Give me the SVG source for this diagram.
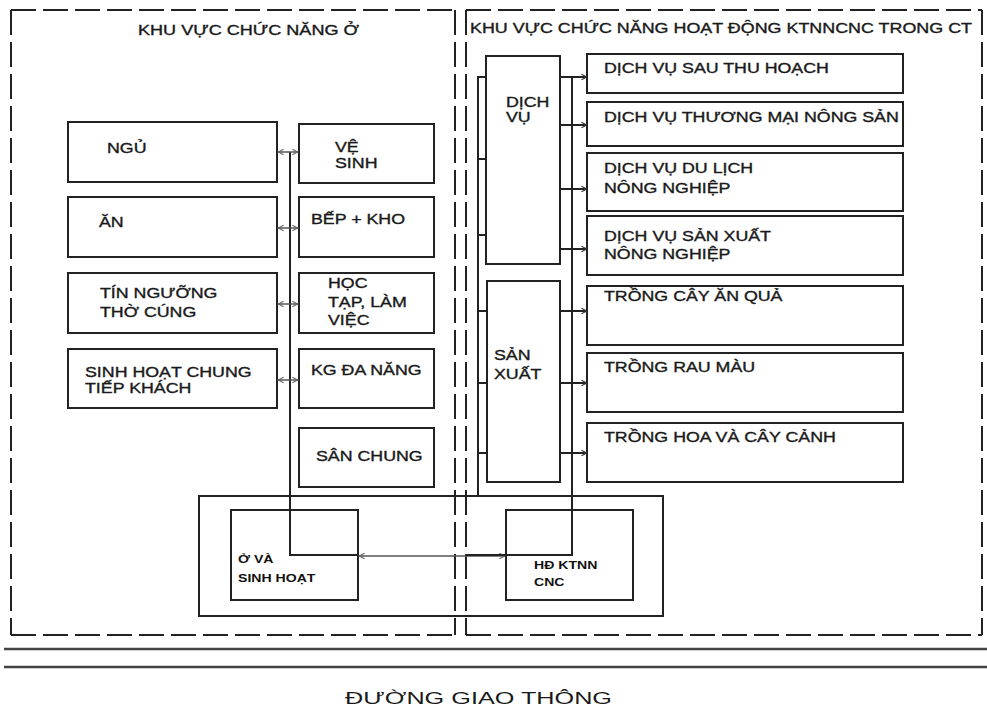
<svg xmlns="http://www.w3.org/2000/svg" width="987" height="709" viewBox="0 0 987 709">
<style>
.box{fill:none;stroke:#222;stroke-width:2}
.dash{stroke:#222;stroke-width:2;stroke-dasharray:25 7;fill:none}
.t{font-family:"Liberation Sans",Arial,sans-serif;font-size:14px;fill:#1a1a1a;stroke:#1a1a1a;stroke-width:0.35}
.s{font-family:"Liberation Sans",Arial,sans-serif;font-size:11px;font-weight:bold;fill:#111}
.ln{stroke:#222;stroke-width:2;fill:none}
.ga{stroke:#555;stroke-width:1.5;fill:none}
.road{stroke:#444;stroke-width:2.5}
.rt{font-family:"Liberation Sans",Arial,sans-serif;font-size:17px;fill:#1a1a1a}
</style>
<defs>
<marker id="ag" viewBox="0 0 10 10" refX="9" refY="5" markerWidth="7" markerHeight="9" markerUnits="userSpaceOnUse" orient="auto-start-reverse"><path d="M1,1 L9,5 L1,9" fill="none" stroke="#666" stroke-width="1.5"/></marker>
<marker id="ab" viewBox="0 0 10 10" refX="9" refY="5" markerWidth="7" markerHeight="9" markerUnits="userSpaceOnUse" orient="auto"><path d="M1,1 L9,5 L1,9" fill="none" stroke="#333" stroke-width="1.5"/></marker>
</defs>
<rect width="987" height="709" fill="#fff"/>

<g id="zone-o">
<line class="dash" x1="11" y1="10" x2="455" y2="10"/>
<line class="dash" x1="455" y1="10" x2="455" y2="635"/>
<line class="dash" x1="11" y1="635" x2="455" y2="635"/>
<line class="dash" x1="11" y1="10" x2="11" y2="635"/>
<text class="t" x="138" y="35" textLength="221" lengthAdjust="spacingAndGlyphs">KHU VỰC CHỨC NĂNG Ở</text>
</g>
<g id="zone-hd">
<line class="dash" x1="466" y1="10" x2="982" y2="10"/>
<line class="dash" x1="982" y1="10" x2="982" y2="635"/>
<line class="dash" x1="466" y1="635" x2="982" y2="635"/>
<line class="dash" x1="466" y1="10" x2="466" y2="635"/>
<text class="t" x="470" y="33" textLength="502" lengthAdjust="spacingAndGlyphs">KHU VỰC CHỨC NĂNG HOẠT ĐỘNG KTNNCNC TRONG CT</text>
</g>

<g id="ngu"><rect class="box" x="68" y="122" width="209" height="60"/><text class="t" transform="translate(107,153) scale(1.27,1)">NGỦ</text></g>
<g id="an"><rect class="box" x="68" y="197" width="209" height="60"/><text class="t" transform="translate(99,227) scale(1.27,1)">ĂN</text></g>
<g id="tin-nguong"><rect class="box" x="68" y="273" width="209" height="60"/><text class="t" transform="translate(100,298) scale(1.27,1)">TÍN NGƯỠNG</text><text class="t" transform="translate(100,317) scale(1.27,1)">THỜ CÚNG</text></g>
<g id="sinh-hoat-chung"><rect class="box" x="68" y="349" width="209" height="59"/><text class="t" transform="translate(85,377) scale(1.27,1)">SINH HOẠT CHUNG</text><text class="t" transform="translate(85,393) scale(1.27,1)">TIẾP KHÁCH</text></g>

<g id="ve-sinh"><rect class="box" x="299" y="124" width="135" height="59"/><text class="t" transform="translate(335,152) scale(1.27,1)">VỆ</text><text class="t" transform="translate(335,168) scale(1.27,1)">SINH</text></g>
<g id="bep-kho"><rect class="box" x="299" y="197" width="135" height="60"/><text class="t" transform="translate(311,224) scale(1.27,1)">BẾP + KHO</text></g>
<g id="hoc-tap"><rect class="box" x="299" y="273" width="135" height="60"/><text class="t" transform="translate(328,288) scale(1.27,1)">HỌC</text><text class="t" transform="translate(328,307) scale(1.27,1)">TẠP, LÀM</text><text class="t" transform="translate(328,325) scale(1.27,1)">VIỆC</text></g>
<g id="kg-da-nang"><rect class="box" x="299" y="349" width="135" height="59"/><text class="t" transform="translate(311,375) scale(1.27,1)">KG ĐA NĂNG</text></g>
<g id="san-chung"><rect class="box" x="299" y="428" width="135" height="59"/><text class="t" transform="translate(316,461) scale(1.27,1)">SÂN CHUNG</text></g>

<g id="dich-vu"><rect class="box" x="486" y="56" width="74" height="208"/><text class="t" transform="translate(506,107) scale(1.27,1)">DỊCH</text><text class="t" transform="translate(506,122) scale(1.27,1)">VỤ</text></g>
<g id="san-xuat"><rect class="box" x="487" y="281" width="73" height="201"/><text class="t" transform="translate(494,360) scale(1.27,1)">SẢN</text><text class="t" transform="translate(494,379) scale(1.27,1)">XUẤT</text></g>

<g id="dv-sau-thu-hoach"><rect class="box" x="587" y="54" width="316" height="39"/><text class="t" transform="translate(604,73) scale(1.27,1)">DỊCH VỤ SAU THU HOẠCH</text></g>
<g id="dv-thuong-mai"><rect class="box" x="587" y="102" width="316" height="44"/><text class="t" transform="translate(604,122) scale(1.27,1)">DỊCH VỤ THƯƠNG MẠI NÔNG SẢN</text></g>
<g id="dv-du-lich"><rect class="box" x="587" y="153" width="316" height="58"/><text class="t" transform="translate(604,173) scale(1.27,1)">DỊCH VỤ DU LỊCH</text><text class="t" transform="translate(604,193) scale(1.27,1)">NÔNG NGHIỆP</text></g>
<g id="dv-san-xuat"><rect class="box" x="587" y="216" width="316" height="59"/><text class="t" transform="translate(604,241) scale(1.27,1)">DỊCH VỤ SẢN XUẤT</text><text class="t" transform="translate(604,259) scale(1.27,1)">NÔNG NGHIỆP</text></g>
<g id="cay-an-qua"><rect class="box" x="587" y="286" width="316" height="59"/><text class="t" transform="translate(604,301) scale(1.27,1)">TRỒNG CÂY ĂN QUẢ</text></g>
<g id="rau-mau"><rect class="box" x="587" y="353" width="316" height="59"/><text class="t" transform="translate(604,372) scale(1.27,1)">TRỒNG RAU MÀU</text></g>
<g id="hoa-cay-canh"><rect class="box" x="587" y="423" width="316" height="59"/><text class="t" transform="translate(604,442) scale(1.27,1)">TRỒNG HOA VÀ CÂY CẢNH</text></g>

<g id="khu-chung"><rect class="box" x="199" y="496" width="464" height="120"/></g>
<g id="o-sinh-hoat"><rect class="box" x="231" y="510" width="127" height="90"/><text class="s" transform="translate(238,563) scale(1.28,1)">Ở VÀ</text><text class="s" transform="translate(238,582) scale(1.28,1)">SINH HOẠT</text></g>
<g id="hd-ktnn"><rect class="box" x="506" y="510" width="127" height="90"/><text class="s" transform="translate(534,569) scale(1.28,1)">HĐ KTNN</text><text class="s" transform="translate(534,586) scale(1.28,1)">CNC</text></g>

<g id="connectors">
<polyline class="ln" points="290,152 290,555 358,555"/>
<line class="ga" x1="278" y1="152" x2="298" y2="152" marker-start="url(#ag)" marker-end="url(#ag)"/>
<line class="ga" x1="278" y1="228" x2="298" y2="228" marker-start="url(#ag)" marker-end="url(#ag)"/>
<line class="ga" x1="278" y1="304" x2="298" y2="304" marker-start="url(#ag)" marker-end="url(#ag)"/>
<line class="ga" x1="278" y1="380" x2="298" y2="380" marker-start="url(#ag)" marker-end="url(#ag)"/>
<line class="ga" x1="359" y1="556" x2="505" y2="556" marker-start="url(#ag)" marker-end="url(#ag)"/>
<polyline class="ln" points="466,555 572,555 572,77"/>
<polyline class="ln" points="486,77 478,77 478,496"/>
<line class="ln" x1="478" y1="159" x2="486" y2="159"/>
<line class="ln" x1="478" y1="235" x2="486" y2="235"/>
<line class="ln" x1="478" y1="311" x2="487" y2="311"/>
<line class="ln" x1="478" y1="383" x2="487" y2="383"/>
<line class="ln" x1="478" y1="453" x2="487" y2="453"/>
<line class="ln" x1="560" y1="77" x2="587" y2="77" marker-end="url(#ab)"/>
<line class="ln" x1="560" y1="125" x2="587" y2="125" marker-end="url(#ab)"/>
<line class="ln" x1="560" y1="189" x2="587" y2="189" marker-end="url(#ab)"/>
<line class="ln" x1="560" y1="249" x2="587" y2="249" marker-end="url(#ab)"/>
<line class="ln" x1="560" y1="311" x2="587" y2="311" marker-end="url(#ab)"/>
<line class="ln" x1="560" y1="383" x2="587" y2="383" marker-end="url(#ab)"/>
<line class="ln" x1="560" y1="453" x2="587" y2="453" marker-end="url(#ab)"/>
</g>

<g id="duong-giao-thong">
<line class="road" x1="4" y1="649" x2="987" y2="649"/>
<line class="road" x1="4" y1="667" x2="987" y2="667"/>
<text class="rt" x="345" y="704" textLength="267" lengthAdjust="spacingAndGlyphs">ĐƯỜNG GIAO THÔNG</text>
</g>
</svg>
